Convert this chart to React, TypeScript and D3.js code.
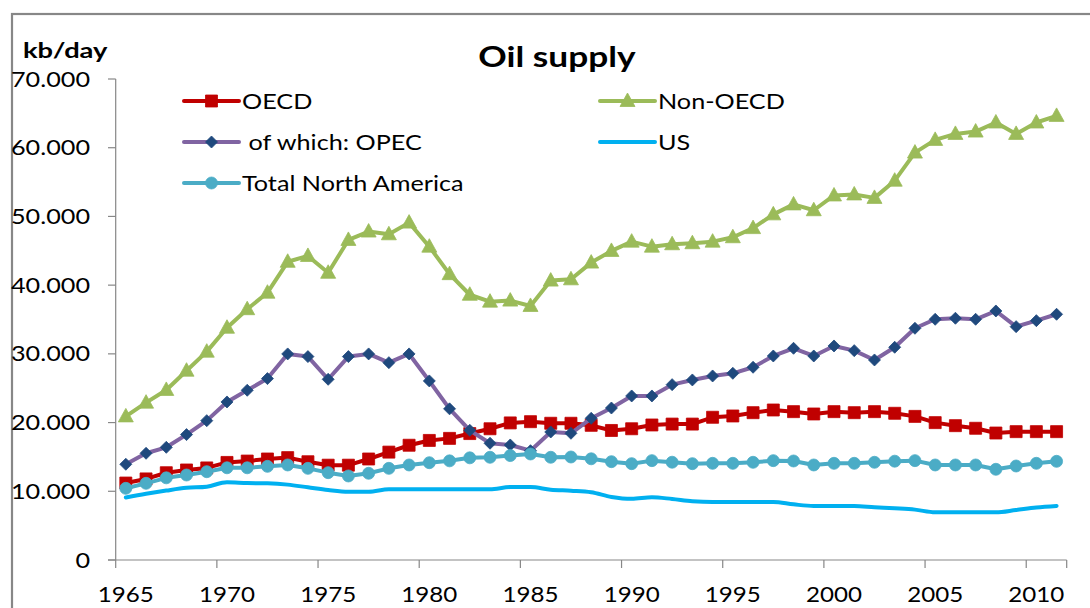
import React from "react";
import * as d3 from "d3";

const years = [
  1965, 1966, 1967, 1968, 1969, 1970, 1971, 1972, 1973, 1974, 1975, 1976, 1977, 1978, 1979, 1980,
  1981, 1982, 1983, 1984, 1985, 1986, 1987, 1988, 1989, 1990, 1991, 1992, 1993, 1994, 1995, 1996,
  1997, 1998, 1999, 2000, 2001, 2002, 2003, 2004, 2005, 2006, 2007, 2008, 2009, 2010, 2011,
];

const oecd = [
  11200, 11800, 12700, 13100, 13400, 14200, 14400, 14700, 14900, 14300, 13800, 13800, 14700, 15700, 16700, 17400,
  17700, 18400, 19100, 19950, 20130, 19900, 19900, 19600, 18850, 19100, 19650, 19780, 19780, 20770, 20960, 21440,
  21830, 21590, 21250, 21590, 21440, 21590, 21350, 20900, 19990, 19550, 19170, 18480, 18680, 18680, 18680,
];

const nonOecd = [
  20900, 22900, 24750, 27550, 30320, 33800, 36500, 38900, 43400, 44250, 41800, 46580, 47800, 47400, 49100, 45600,
  41600, 38600, 37600, 37750, 36970, 40660, 40850, 43280, 44980, 46330, 45600, 45950, 46100, 46330, 46970, 48300,
  50300, 51750, 50900, 53050, 53200, 52700, 55200, 59290, 61140, 62010, 62350, 63670, 62010, 63670, 64630,
];

const opec = [
  13930, 15530, 16400, 18250, 20280, 23000, 24700, 26400, 29990, 29600, 26300, 29600, 29990, 28720, 29990, 26060,
  22000, 18870, 16990, 16740, 15910, 18630, 18440, 20620, 22120, 23870, 23870, 25520, 26200, 26780, 27170, 28050,
  29690, 30810, 29690, 31150, 30470, 29110, 30960, 33720, 35030, 35180, 35030, 36240, 33960, 34830, 35760,
];

const us = [
  9100, 9640, 10100, 10500, 10670, 11320, 11200, 11160, 10970, 10580, 10190, 9940, 9940, 10290, 10290, 10290,
  10290, 10290, 10290, 10620, 10620, 10240, 10090, 9870, 9180, 8900, 9130, 8880, 8560, 8440, 8440, 8440,
  8440, 8100, 7860, 7860, 7860, 7670, 7520, 7330, 6940, 6940, 6940, 6940, 7280, 7640, 7860,
];

const totalNA = [
  10430, 11160, 11960, 12370, 12850, 13420, 13420, 13630, 13830, 13340, 12710, 12230, 12620, 13340, 13830, 14160,
  14430, 14870, 14950, 15200, 15430, 14950, 14990, 14730, 14310, 14020, 14460, 14230, 14020, 14070, 14070, 14220,
  14460, 14410, 13830, 14070, 14070, 14220, 14380, 14460, 13830, 13830, 13830, 13200, 13680, 14070, 14360,
];

const yTicks = [0, 10000, 20000, 30000, 40000, 50000, 60000, 70000];
const xTickYears = [1965, 1970, 1975, 1980, 1985, 1990, 1995, 2000, 2005, 2010];

type Marker = "square" | "triangle" | "diamond" | "circle" | "none";
const series: { name: string; values: number[]; line: string; fill: string; marker: Marker; lx: number; ly: number }[] = [
  { name: "OECD", values: oecd, line: "#C00000", fill: "#C00000", marker: "square", lx: 184, ly: 101 },
  { name: "Non-OECD", values: nonOecd, line: "#9BBB59", fill: "#9BBB59", marker: "triangle", lx: 600, ly: 101 },
  { name: " of which: OPEC", values: opec, line: "#8064A2", fill: "#1F497D", marker: "diamond", lx: 184, ly: 142 },
  { name: "US", values: us, line: "#00B0F0", fill: "#00B0F0", marker: "none", lx: 600, ly: 142 },
  { name: "Total North America", values: totalNA, line: "#4BACC6", fill: "#4BACC6", marker: "circle", lx: 184, ly: 183 },
];

const FONT = "Lato, 'Open Sans', sans-serif";

const locale = d3.formatLocale({ thousands: ".", decimal: ",", grouping: [3], currency: ["", ""] });
const fmtY = (v: number) => (v === 0 ? "0" : locale.format(",")(v));

function markerPath(kind: Marker): string {
  switch (kind) {
    case "square":
      return "M-6,-6H6V6H-6Z";
    case "triangle":
      return "M0,-8L7.5,5.5H-7.5Z";
    case "diamond":
      return "M0,-6L6,0L0,6L-6,0Z";
    case "circle":
      return d3.symbol(d3.symbolCircle, 113)() || "";
    default:
      return "";
  }
}

function SText(props: { x: number; y: number; anchor?: string; size: number; sx: number; weight?: string; children: React.ReactNode }) {
  const { x, y, anchor = "start", size, sx, weight = "normal", children } = props;
  return (
    <text
      transform={`translate(${x},${y}) scale(${sx},1)`}
      textAnchor={anchor}
      fontFamily={FONT}
      fontSize={size}
      fontWeight={weight}
      fill="#000"
      style={{ whiteSpace: "pre" }}
    >
      {children}
    </text>
  );
}

export default function App() {
  const W = 1090;
  const H = 608;
  const x = d3.scaleBand<number>().domain(years).range([115.7, 1066.7]).padding(0);
  const y = d3.scaleLinear().domain([0, 70000]).range([560, 79]);
  const cx = (yr: number) => (x(yr) as number) + x.bandwidth() / 2;

  const line = d3
    .line<number>()
    .x((_, i) => cx(years[i]))
    .y((d) => y(d));
  const smooth = d3
    .line<number>()
    .x((_, i) => cx(years[i]))
    .y((d) => y(d))
    .curve(d3.curveMonotoneX);

  return (
    <svg width={W} height={H} style={{ position: "absolute", left: 0, top: 0, background: "#fff" }}>
      <rect x={0} y={0} width={W} height={H} fill="#fff" />
      <rect x={12} y={14} width={1200} height={800} fill="#fff" stroke="#878787" strokeWidth={2.2} />

      {/* axes */}
      <line x1={115.7} x2={115.7} y1={y(70000)} y2={y(0)} stroke="#878787" strokeWidth={1.2} />
      {yTicks.map((t) => (
        <g key={t}>
          <line x1={108} x2={115.7} y1={y(t)} y2={y(t)} stroke="#878787" strokeWidth={1.2} />
          <SText x={90} y={y(t) + 7.5} anchor="end" size={21} sx={1.2}>
            {fmtY(t)}
          </SText>
        </g>
      ))}
      <line x1={108} x2={1066.7} y1={y(0)} y2={y(0)} stroke="#878787" strokeWidth={1.2} />
      {xTickYears.map((yr) => (
        <g key={yr}>
          <line x1={x(yr)} x2={x(yr)} y1={560} y2={568} stroke="#878787" strokeWidth={1.2} />
          <SText x={cx(yr)} y={601.5} anchor="middle" size={21} sx={1.15}>
            {String(yr)}
          </SText>
        </g>
      ))}
      <line x1={1066.7} x2={1066.7} y1={560} y2={568} stroke="#878787" strokeWidth={1.2} />

      {/* series */}
      {series.map((s) => (
        <g key={s.name}>
          <path d={(s.marker === "none" ? smooth : line)(s.values) || ""} fill="none" stroke={s.line} strokeWidth={4} strokeLinejoin="round" strokeLinecap="round" />
          {s.marker !== "none" &&
            s.values.map((v, i) => (
              <path key={i} d={markerPath(s.marker)} transform={`translate(${cx(years[i])},${y(v)})`} fill={s.fill} stroke={s.fill} strokeWidth={0.8} />
            ))}
        </g>
      ))}

      {/* legend */}
      {series.map((s) => (
        <g key={"lg" + s.name}>
          <line x1={s.lx} x2={s.lx + 55} y1={s.ly} y2={s.ly} stroke={s.line} strokeWidth={4} strokeLinecap="round" />
          {s.marker !== "none" && (
            <path d={markerPath(s.marker)} transform={`translate(${s.lx + 27.5},${s.ly})`} fill={s.fill} stroke={s.fill} strokeWidth={0.8} />
          )}
          <SText x={s.lx + 58} y={s.ly + 7.5} size={21} sx={1.2}>
            {s.name}
          </SText>
        </g>
      ))}

      {/* titles */}
      <SText x={557} y={67} anchor="middle" size={28} sx={1.26} weight="bold">
        Oil supply
      </SText>
      <SText x={23} y={58} size={21} sx={1.3} weight="bold">
        kb/day
      </SText>
    </svg>
  );
}
